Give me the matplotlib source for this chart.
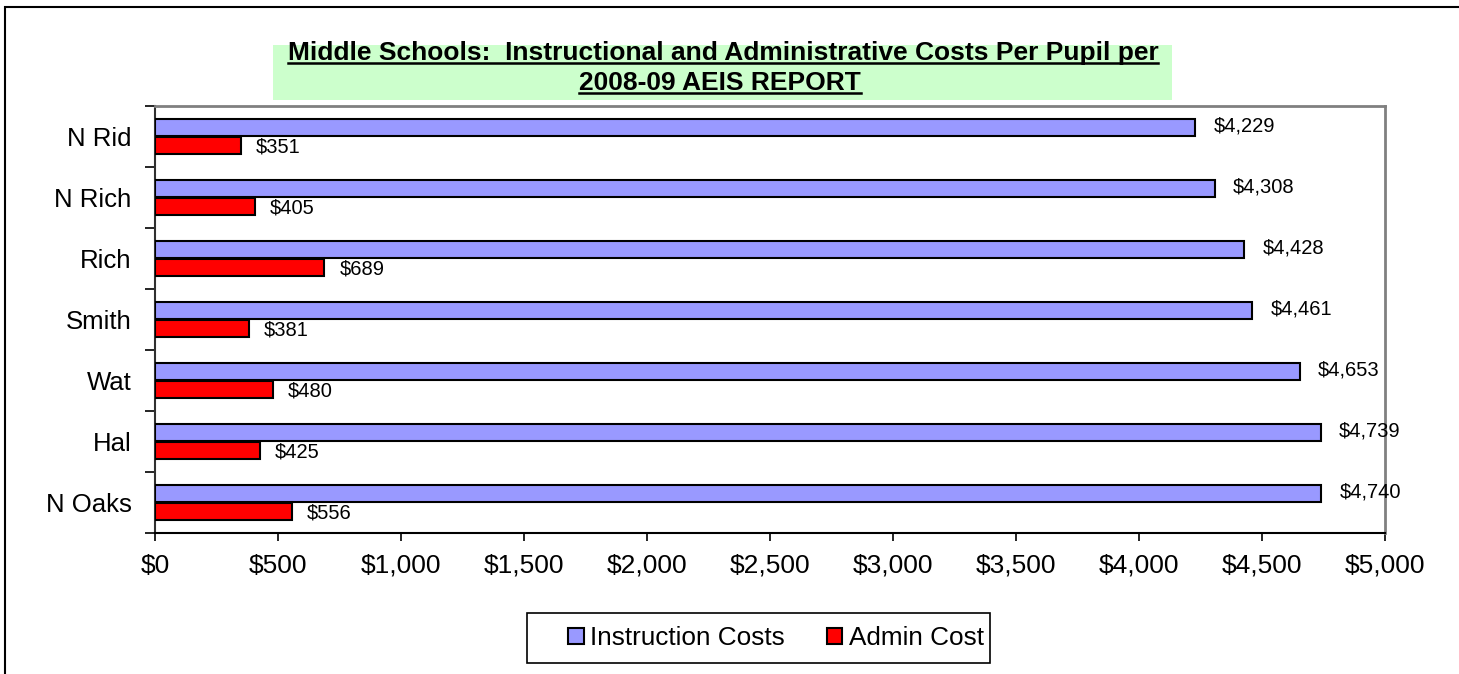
import matplotlib.pyplot as plt
from matplotlib.patches import Rectangle
from matplotlib.ticker import FuncFormatter, MultipleLocator
import numpy as np

plt.rcParams["font.family"] = ["Liberation Sans", "DejaVu Sans"]

# --- Data ---
schools = ["N Rid", "N Rich", "Rich", "Smith", "Wat", "Hal", "N Oaks"]
instruction_costs = [4229, 4308, 4428, 4461, 4653, 4739, 4740]
admin_costs = [351, 405, 689, 381, 480, 425, 556]

title_1 = "Middle Schools:  Instructional and Administrative Costs Per Pupil per"
title_2 = "2008-09 AEIS REPORT"

W, H = 1459, 674


def fx(px):
    return px / W


def fy(py):
    return 1 - py / H


# --- Figure ---
fig = plt.figure(figsize=(W / 100, H / 100), dpi=100)
ax = fig.add_axes([fx(155), fy(533), 1230 / W, 427 / H])

# outer chart border (top / left visible)
fig.patches.append(
    Rectangle((fx(5), -0.1), 1.2, fy(7) + 0.1, transform=fig.transFigure,
              fill=False, edgecolor="black", linewidth=1.5)
)

y = np.arange(len(schools))
h = 0.29
ax.barh(y - 0.15, instruction_costs, height=h, color="#9999FF",
        edgecolor="black", linewidth=1.5, label="Instruction Costs", zorder=3)
ax.barh(y + 0.15, admin_costs, height=h, color="#FF0000",
        edgecolor="black", linewidth=1.5, label="Admin Cost", zorder=3)

for yi, v in zip(y, instruction_costs):
    ax.text(v + 75, yi - 0.17, f"${v:,}", va="center", ha="left", fontsize=14.5)
for yi, v in zip(y, admin_costs):
    ax.text(v + 60, yi + 0.17, f"${v:,}", va="center", ha="left", fontsize=14.5)

ax.set_xlim(0, 5000)
ax.set_ylim(len(schools) - 0.5, -0.5)
ax.xaxis.set_major_locator(MultipleLocator(500))
ax.xaxis.set_major_formatter(FuncFormatter(lambda v, p: f"${v:,.0f}"))
ax.tick_params(axis="x", direction="out", length=6, width=1.2, labelsize=19, pad=9)

ax.set_yticks(y)
ax.set_yticklabels(schools, fontsize=18.5)
ax.set_yticks(np.arange(len(schools) + 1) - 0.5, minor=True)
ax.tick_params(axis="y", which="major", length=0, pad=17)
ax.tick_params(axis="y", which="minor", direction="out", length=7, width=1.2)

for side in ["top", "right"]:
    ax.spines[side].set_color("#808080")
    ax.spines[side].set_linewidth(2)
ax.spines["left"].set_color("#303030")
ax.spines["left"].set_linewidth(1.5)
ax.spines["bottom"].set_color("black")
ax.spines["bottom"].set_linewidth(1.5)

# --- Title (green box, bold underlined lines) ---
fig.patches.append(
    Rectangle((fx(273), fy(100)), (1172 - 273) / W, 55 / H, transform=fig.transFigure,
              facecolor="#CCFFCC", edgecolor="none", zorder=0)
)
t1 = fig.text(fx(723), fy(60), title_1, ha="center", va="baseline",
              fontsize=19, fontweight="bold")
t2 = fig.text(fx(720), fy(90), title_2, ha="center", va="baseline",
              fontsize=19, fontweight="bold")
fig.canvas.draw()
renderer = fig.canvas.get_renderer()
for t, uy in [(t1, 63), (t2, 93)]:
    bb = t.get_window_extent(renderer).transformed(fig.transFigure.inverted())
    fig.add_artist(plt.Line2D([bb.x0, bb.x1], [fy(uy), fy(uy)],
                              color="black", linewidth=1.8))

# --- Legend ---
fig.patches.append(
    Rectangle((fx(527), fy(663)), (990 - 527) / W, 50 / H, transform=fig.transFigure,
              fill=False, edgecolor="black", linewidth=1.2)
)
fig.legend(loc="center", bbox_to_anchor=(fx(776), fy(638)), ncol=2,
           fontsize=18.8, frameon=False,
           handlelength=0.6, handleheight=0.6, handletextpad=0.25,
           columnspacing=1.6, borderpad=0.3)

fig.savefig("out.png", dpi=100, facecolor="white")
